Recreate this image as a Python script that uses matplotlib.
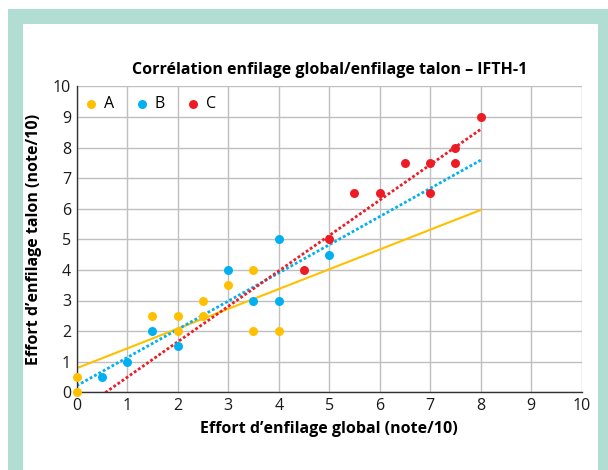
import numpy as np
import matplotlib
matplotlib.use("Agg")
import matplotlib.pyplot as plt
from matplotlib.patches import Rectangle

plt.rcParams['font.family'] = ['Open Sans', 'DejaVu Sans']

title = "Corrélation enfilage global/enfilage talon – IFTH-1"
xlabel = "Effort d\u2019enfilage global (note/10)"
ylabel = "Effort d\u2019enfilage talon (note/10)"

a_x = [0, 0, 1.5, 2, 2, 2.5, 2.5, 3, 3.5, 3.5, 4]
a_y = [0, 0.5, 2.5, 2.5, 2, 3, 2.5, 3.5, 4, 2, 2]
b_x = [0.5, 1, 1.5, 2, 3, 3.5, 4, 4, 5]
b_y = [0.5, 1, 2, 1.5, 4, 3, 5, 3, 4.5]
c_x = [4.5, 5, 5.5, 6, 6.5, 7, 7, 7.5, 7.5, 8]
c_y = [4, 5, 6.5, 6.5, 7.5, 7.5, 6.5, 8, 7.5, 9]
labels = ["A", "B", "C"]
colors = ["#FFC000", "#00B0F0", "#ED1C24"]
trend_range = [0, 8]
ticks = list(range(0, 11))

fig = plt.figure(figsize=(6.08, 4.70), dpi=100)
W, H = 608, 470
# teal frame
fig.patches.append(Rectangle((8 / W, 0), 1, 1 - 9 / H, transform=fig.transFigure,
                             facecolor="#B2DDD3", edgecolor="none", zorder=-20))
fig.patches.append(Rectangle((23 / W, 0), (598 - 23) / W, 1 - 24 / H, transform=fig.transFigure,
                             facecolor="white", edgecolor="none", zorder=-10))

ax = fig.add_axes([76.7 / W, 1 - 392.3 / H, (581.7 - 76.7) / W, (392.3 - 86.3) / H])
ax.set_facecolor("none")

series = [(a_x, a_y), (b_x, b_y), (c_x, c_y)]
styles = ["-", (0, (1, 0.8)), (0, (1, 0.8))]
lws = [1.5, 2.0, 2.0]
for (xs, ys), lab, col, ls, lw in zip(series, labels, colors, styles, lws):
    k, b0 = np.polyfit(xs, ys, 1)
    tx = np.linspace(trend_range[0], trend_range[1], 200)
    ax.plot(tx, k * tx + b0, color=col, linestyle=ls, lw=lw, zorder=2)
for (xs, ys), lab, col in zip(series, labels, colors):
    ax.scatter(xs, ys, s=42, color=col, label=lab, zorder=3, linewidths=0, clip_on=False)

ax.set_xlim(0, 10)
ax.set_ylim(0, 10)
ax.set_xticks(ticks)
ax.set_yticks(ticks)
ax.grid(True, color="#BFBFBF", lw=1.0, zorder=0)
ax.set_axisbelow(True)
for s in ["top", "right"]:
    ax.spines[s].set_visible(False)
for s in ["left", "bottom"]:
    ax.spines[s].set_color("#333333")
    ax.spines[s].set_linewidth(1.0)
ax.tick_params(length=0, labelsize=11.5, colors="#1a1a1a", pad=4)

ax.set_xlabel(xlabel, fontsize=11.5, fontweight="bold", labelpad=5)
ax.set_ylabel(ylabel, fontsize=11.5, fontweight="bold", labelpad=8)
ax.set_title(title, fontsize=11.5, fontweight="bold", pad=9)

ax.legend(loc="upper left", bbox_to_anchor=(0.0, 1.0), ncol=3, frameon=False,
          handlelength=0.6, handletextpad=0.5, columnspacing=1.45, fontsize=11.5,
          borderaxespad=0.2, scatterpoints=1)

fig.savefig("out.png", dpi=100)
